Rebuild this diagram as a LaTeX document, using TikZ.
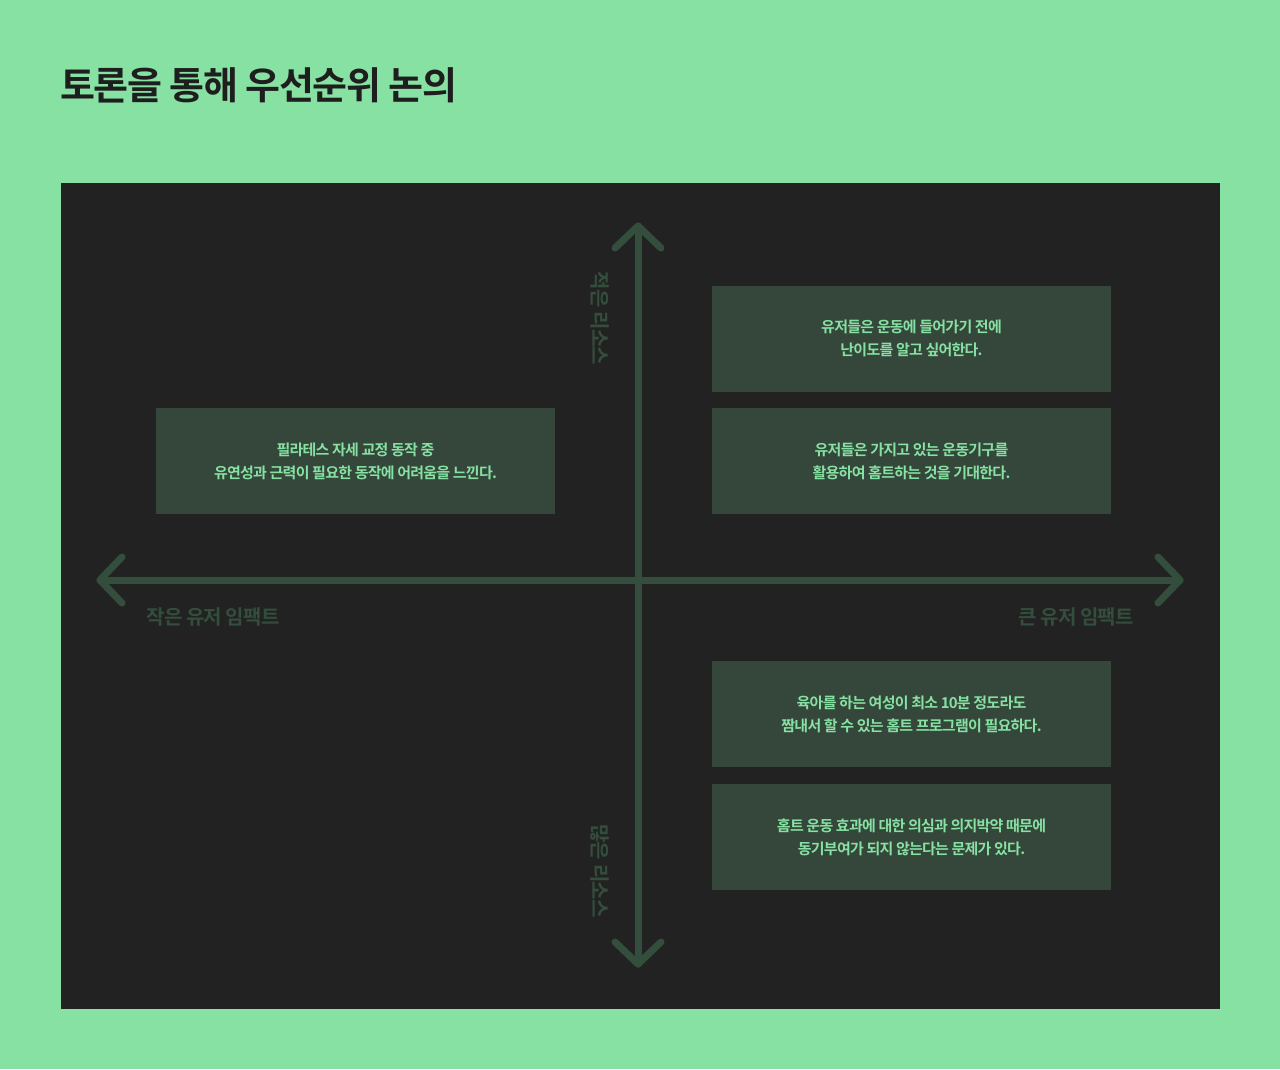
\documentclass[tikz,border=0pt]{standalone}
\usepackage{fontspec}
\usetikzlibrary{calc}
\newfontfamily\krtitle[LetterSpace=-3.5]{Noto Sans CJK KR Bold}
\newfontfamily\krbold[LetterSpace=-4]{Noto Sans CJK KR Bold}
\newfontfamily\krbox[LetterSpace=-5]{Noto Sans CJK KR Bold}
\definecolor{bggreen}{RGB}{134,225,163}
\definecolor{panel}{RGB}{34,34,34}
\definecolor{boxfill}{RGB}{52,71,58}
\definecolor{axis}{RGB}{52,78,61}
\definecolor{titletext}{RGB}{30,30,30}
\tikzset{
  card/.style={fill=boxfill, draw=none, minimum width=399pt, minimum height=106pt, inner sep=0pt,
    align=center, text=bggreen, font={\krbox\fontsize{15}{23}\selectfont}},
  axisline/.style={draw=axis, line width=7pt, line cap=round, line join=round},
  axislabel/.style={text=axis, inner sep=0pt, font={\krbold\fontsize{20}{24}\selectfont}},
}
\begin{document}
\begin{tikzpicture}[x=1pt,y=-1pt]
\useasboundingbox (0,0) rectangle (1280,1069);
\fill[bggreen] (0,0) rectangle (1280,1069);
\node[anchor=west, inner sep=0pt, text=titletext, font={\krtitle\fontsize{38}{40}\selectfont}] (title) at (60,85) {토론을 통해 우선순위 논의};
\fill[panel] (61,183) rectangle (1220,1009);
% axes
\coordinate (L) at (100,580);
\coordinate (R) at (1180,580);
\coordinate (T) at (638,226);
\coordinate (B) at (638,964);
\path[axisline] (L) -- (R);
\path[axisline] (T) -- (B);
\path[axisline] ($(L)+(22,-23)$) -- (L) -- ($(L)+(22,23)$);
\path[axisline] ($(R)+(-22,-23)$) -- (R) -- ($(R)+(-22,23)$);
\path[axisline] ($(T)+(-23,22)$) -- (T) -- ($(T)+(23,22)$);
\path[axisline] ($(B)+(-23,-22)$) -- (B) -- ($(B)+(23,-22)$);
% axis labels
\node[axislabel] (lowimpact) at (213,616.5) {작은 유저 임팩트};
\node[axislabel] (highimpact) at (1076,616.5) {큰 유저 임팩트};
\node[axislabel, rotate=-90] (lowres) at (600,318.5) {적은 리소스};
\node[axislabel, rotate=-90] (highres) at (600,871) {많은 리소스};
% cards
\node[card] (c1) at (911.5,338.5) {유저들은 운동에 들어가기 전에\\난이도를 알고 싶어한다.};
\node[card] (c2) at (911.5,461) {유저들은 가지고 있는 운동기구를\\활용하여 홈트하는 것을 기대한다.};
\node[card] (c3) at (911.5,714) {육아를 하는 여성이 최소 10분 정도라도\\짬내서 할 수 있는 홈트 프로그램이 필요하다.};
\node[card] (c4) at (911.5,837) {홈트 운동 효과에 대한 의심과 의지박약 때문에\\동기부여가 되지 않는다는 문제가 있다.};
\node[card] (c5) at (355.5,461) {필라테스 자세 교정 동작 중\\유연성과 근력이 필요한 동작에 어려움을 느낀다.};
\end{tikzpicture}
\end{document}
